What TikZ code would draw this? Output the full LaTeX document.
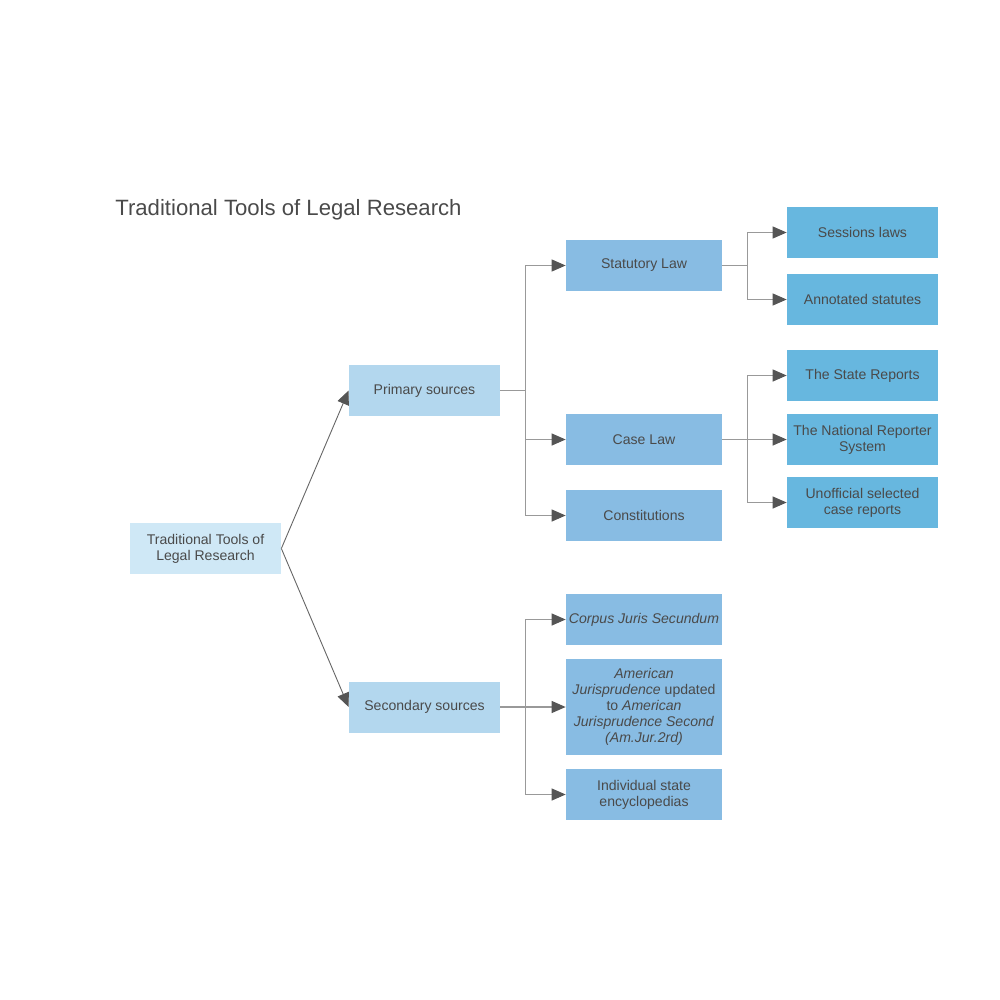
\documentclass[tikz,border=0pt]{standalone}
\usepackage{fontspec}
\setmainfont{Liberation Sans}
\usetikzlibrary{arrows.meta,positioning}
\definecolor{rootblue}{HTML}{CFE8F6}
\definecolor{srcblue}{HTML}{B3D7EE}
\definecolor{lawblue}{HTML}{88BCE3}
\definecolor{leafblue}{HTML}{67B7DF}
\definecolor{textgray}{HTML}{4A4A4A}
\definecolor{linegray}{HTML}{666666}
\definecolor{forkgray}{HTML}{999999}
\definecolor{tipgray}{HTML}{555555}
\tikzset{
  box/.style={rectangle, minimum width=30.2mm, minimum height=10.2mm, inner sep=1pt,
  align=center, text=textgray, font=\fontsize{8}{9.1}\selectfont},
  rootbox/.style={box, fill=rootblue},
  srcbox/.style={box, fill=srcblue},
  lawbox/.style={box, fill=lawblue, minimum width=31.2mm},
  leafbox/.style={box, fill=leafblue},
  plain/.style={draw=forkgray, line width=0.22mm},
  link/.style={plain, -{Triangle[length=2.8mm, width=2.4mm, color=tipgray]}},
  slant/.style={link, draw=linegray, line width=0.18mm}}

\begin{document}
\begin{tikzpicture}[x=0.2mm, y=-0.2mm]
\useasboundingbox (0,0) rectangle (1000,1000);

\draw (115,215) node (title) [anchor=base west, inner sep=0, text=textgray, font=\fontsize{12.6}{15}\selectfont] {Traditional Tools of Legal Research};

\draw (205.5,548.5) node (root) [rootbox] {Traditional Tools of\\Legal Research};

\draw (424.5,390.5) node (prim) [srcbox] {Primary sources};
\draw (424.5,707) node (sec) [srcbox] {Secondary sources};

\draw (644,265.5) node (stat) [lawbox] {Statutory Law};
\draw (644,439.5) node (case) [lawbox] {Case Law};
\draw (644,515.5) node (const) [lawbox] {Constitutions};

\draw (644,619.5) node (cjs) [lawbox] {\textit{Corpus Juris Secundum}};
\draw (644,707) node (amjur) [lawbox, minimum height=19.2mm] {\textit{American}\\\textit{Jurisprudence} updated\\to \textit{American}\\\textit{Jurisprudence Second}\\\textit{(Am.Jur.2rd)}};
\draw (644,794.5) node (encyc) [lawbox] {Individual state\\encyclopedias};

\draw (862.5,232.5) node (sess) [leafbox] {Sessions laws};
\draw (862.5,299.5) node (annot) [leafbox] {Annotated statutes};

\draw (862.5,375.5) node (state) [leafbox] {The State Reports};
\draw (862.5,439.5) node (natl) [leafbox] {The National Reporter\\System};
\draw (862.5,502.5) node (unoff) [leafbox] {Unofficial selected\\case reports};

\draw [slant] (root.east) -- (prim.west);
\draw [slant] (root.east) -- (sec.west);

\path (prim.east) -- +(25,0) coordinate (pfork);
\draw [plain] (prim.east) -- (pfork);
\draw [link] (pfork) |- (stat.west);
\draw [link] (pfork) |- (case.west);
\draw [link] (pfork) |- (const.west);

\path (sec.east) -- +(25,0) coordinate (sfork);
\draw [plain] (sec.east) -- (sfork);
\draw [link] (sfork) |- (cjs.west);
\draw [link] (sfork) |- (amjur.west);
\draw [link] (sfork) |- (encyc.west);

\path (stat.east) -- +(25,0) coordinate (stfork);
\draw [plain] (stat.east) -- (stfork);
\draw [link] (stfork) |- (sess.west);
\draw [link] (stfork) |- (annot.west);

\path (case.east) -- +(25,0) coordinate (cfork);
\draw [plain] (case.east) -- (cfork);
\draw [link] (cfork) |- (state.west);
\draw [link] (cfork) |- (natl.west);
\draw [link] (cfork) |- (unoff.west);

\end{tikzpicture}
\end{document}
